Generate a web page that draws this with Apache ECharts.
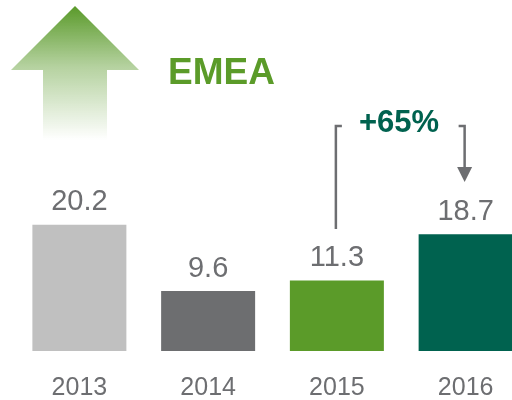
<!DOCTYPE html>
<html>
<head>
<meta charset="utf-8">
<script src="https://cdn.jsdelivr.net/npm/echarts@6/dist/echarts.min.js"></script>
<style>
  html, body { margin: 0; padding: 0; background: #ffffff; }
  #chart { width: 512px; height: 400px; }
</style>
</head>
<body>
<div id="chart"></div>
<script>
// Yearly values for the EMEA region
const years = ['2013', '2014', '2015', '2016'];
const values = [20.2, 9.6, 11.3, 18.7];
const barColors = ['#c0c0c0', '#6d6e70', '#5b9b29', '#00624f'];
const regionTitle = 'EMEA';
const growthLabel = '+65%';

const FONT = '"Liberation Sans", Arial, sans-serif';
const GREY = '#6d6e71';

const chart = echarts.init(document.getElementById('chart'));

chart.setOption({
  animation: false,
  grid: { left: 15, width: 515, top: 101, bottom: 49, outerBoundsMode: 'none', containLabel: false },
  xAxis: {
    type: 'category',
    data: years,
    axisLine: { show: false },
    axisTick: { show: false },
    axisLabel: { color: GREY, fontFamily: FONT, fontSize: 25, margin: 25 }
  },
  yAxis: {
    type: 'value', min: 0, max: 40,
    show: false, splitLine: { show: false }
  },
  series: [{
    type: 'bar',
    barWidth: 94,
    data: values.map((v, i) => ({ value: v, itemStyle: { color: barColors[i] } })),
    label: {
      show: true, position: 'top', distance: 8,
      color: GREY, fontFamily: FONT, fontSize: 29
    }
  }]
});

// Annotations: growth arrow, region title and the 2015 -> 2016 bracket
function drawAnnotations() {
  const x2015 = chart.convertToPixel({ xAxisIndex: 0 }, '2015');
  const x2016 = chart.convertToPixel({ xAxisIndex: 0 }, '2016');
  const lineStyle = { stroke: GREY, lineWidth: 2.5, fill: null };
  const topY = 126;

  chart.setOption({
    graphic: [
      {
        type: 'polygon',
        shape: { points: [[75, 6], [139, 70], [107, 70], [107, 140], [43, 140], [43, 70], [11, 70]] },
        style: {
          fill: new echarts.graphic.LinearGradient(0, 0, 0, 1, [
            { offset: 0, color: 'rgba(90,154,42,1)' },
            { offset: 0.45, color: 'rgba(90,154,42,0.45)' },
            { offset: 1, color: 'rgba(90,154,42,0)' }
          ])
        }
      },
      {
        type: 'text', left: 168, top: 55,
        style: { text: regionTitle, fill: '#5b9b29', font: 'bold 37px ' + FONT }
      },
      {
        type: 'text', left: 359, top: 108,
        style: { text: growthLabel, fill: '#00624f', font: 'bold 31px ' + FONT }
      },
      {
        type: 'polyline',
        shape: { points: [[x2015 + 5, topY], [x2015 - 1, topY], [x2015 - 1, 229]] },
        style: lineStyle
      },
      {
        type: 'polyline',
        shape: { points: [[x2016 - 7, topY], [x2016 - 1, topY], [x2016 - 1, 170]] },
        style: lineStyle
      },
      {
        type: 'polygon',
        shape: { points: [[x2016 - 8.5, 167], [x2016 + 6.5, 167], [x2016 - 1, 182]] },
        style: { fill: GREY }
      }
    ]
  });
}
drawAnnotations();
</script>
</body>
</html>
